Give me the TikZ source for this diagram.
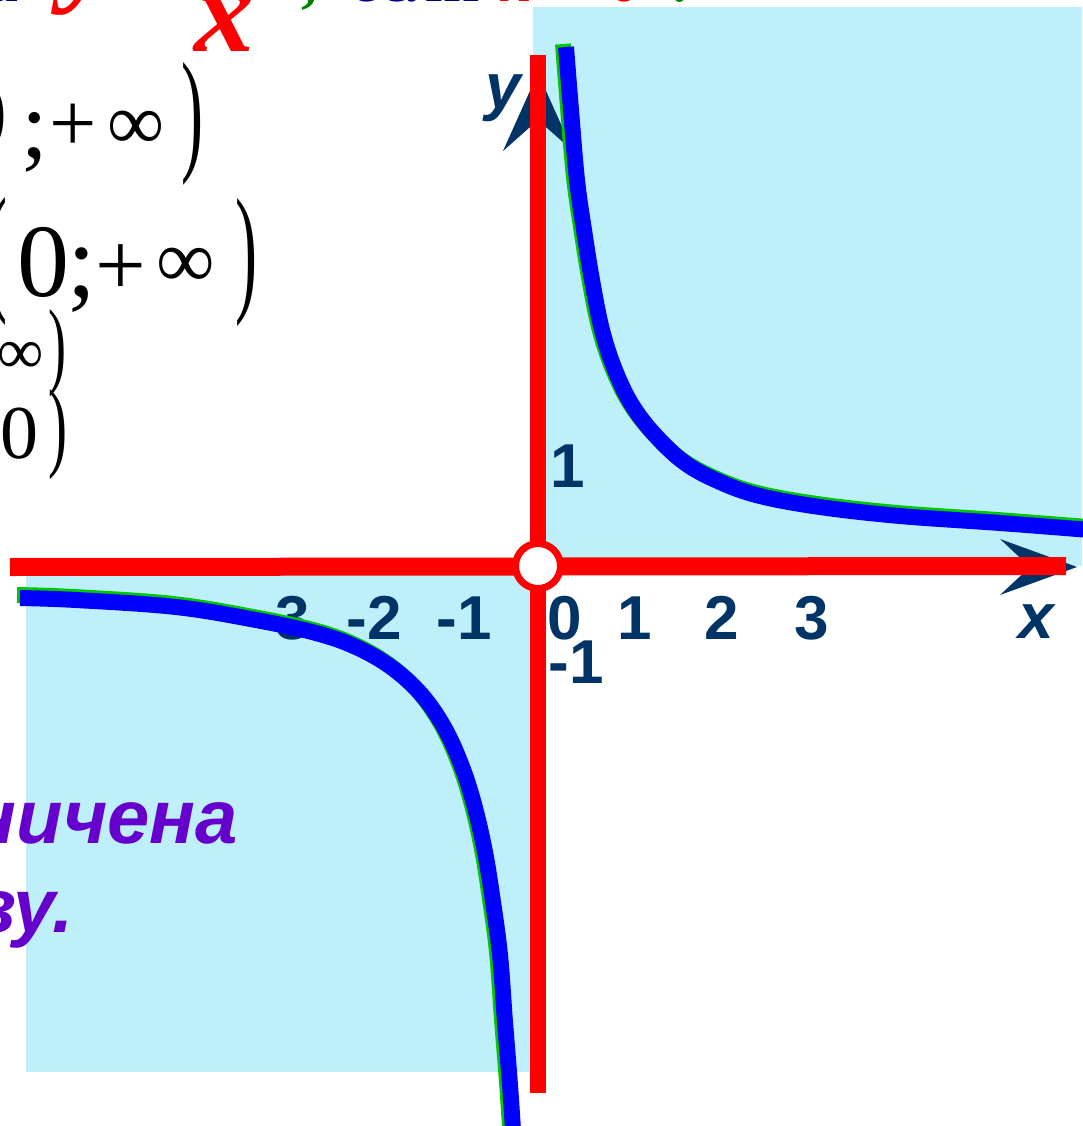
\documentclass[tikz,border=0pt]{standalone}
\usepackage{fontspec}
\usepackage{graphicx}
\setmainfont{Liberation Serif}
\newfontfamily\arialf{Liberation Sans}
\definecolor{cyanbg}{RGB}{190,240,252}
\definecolor{axisred}{RGB}{255,0,0}
\definecolor{navyaxis}{RGB}{0,51,102}
\definecolor{curveblue}{RGB}{0,0,255}
\definecolor{curvegreen}{RGB}{0,200,0}
\definecolor{purp}{RGB}{102,0,204}
\definecolor{titlenavy}{RGB}{0,0,128}
\definecolor{titlegreen}{RGB}{0,128,0}
\newcommand{\fsz}[1]{\fontsize{#1}{#1}\selectfont}
\begin{document}
\begin{tikzpicture}[x=1pt,y=-1pt,
  num/.style={text=navyaxis,inner sep=0,anchor=base,font=\arialf\bfseries\fsz{62}},
  axlab/.style={text=navyaxis,inner sep=0,anchor=base,font=\arialf\bfseries\itshape\fsz{64}},
  mth/.style={inner sep=0,anchor=center,font=\fsz{#1}},
  paren/.style={inner sep=0,anchor=center},
  ttl/.style={inner sep=0,anchor=base,font=\bfseries\fsz{64}},
  purptext/.style={text=purp,inner sep=0,anchor=base east,font=\arialf\bfseries\itshape\fsz{76}},
  axisline/.style={draw=axisred,line width=#1},
  curve/.style={draw=curveblue,line width=16pt},
  curveshadow/.style={draw=curvegreen,line width=16pt},
  arrowhead/.style={fill=navyaxis,draw=none}
]
\useasboundingbox (0,0) rectangle (1082,1126);
% background panels
\fill[cyanbg] (533,7) rectangle (1082,566);
\fill[cyanbg] (26,566) rectangle (531,1072);

% top title fragments (cut off)
\node[ttl,text=titlenavy,anchor=base east] (ta) at (19,2) {а};
\node[inner sep=0,anchor=base,text=red,font=\bfseries\itshape\fsz{120}] (ty) at (90,-10) {y};
\node[inner sep=0,anchor=base,text=red,font=\bfseries\itshape\fsz{120}] (tx) at (224,52) {x};
\node[ttl,text=titlegreen] (tc) at (309,1) {,};
\node[ttl,text=titlenavy,anchor=base west] (te) at (350,2) {если};
\node[ttl,text=red,font=\bfseries\itshape\fsz{64}] (tk) at (515,2) {k};
\node[ttl,text=red] (t0) at (624,2) {0};
\node[ttl,text=titlegreen] (tcol) at (680,2) {:};

% math fragments, line A
\node[mth=96] (a0) at (-16,117) {0};
\node[mth=96] (asc) at (35,142) {;};
\node[mth=84] (apl) at (73,128) {+};
\node[mth=80] (ainf) at (136,130) {∞};
\node[paren] (apr) at (192,124) {\resizebox{22pt}{94pt}{)}};
% line B
\node[paren] (bpl) at (-3,262) {\resizebox{22pt}{98pt}{(}};
\node[mth=104] (b0) at (43,262) {0};
\node[mth=104] (bsc) at (82,280) {;};
\node[mth=90] (bpls) at (121,270) {+};
\node[mth=82] (binf) at (186,268) {∞};
\node[paren] (bpr) at (246,263) {\resizebox{22pt}{98pt}{)}};
% line C
\node[mth=65] (cinf) at (21,358) {∞};
\node[paren] (cpr) at (57,353) {\resizebox{18pt}{67pt}{)}};
% line D
\node[mth=76] (d0) at (20,434) {0};
\node[paren] (dpr) at (58,435) {\resizebox{19pt}{69pt}{)}};

% purple text
\node[purptext] (p1) at (238,843) {ограничена};
\node[purptext] (p2) at (74,932) {снизу.};

% arrowheads (behind red axes)
\fill[arrowhead] (538,73) -- (573,151) -- (538,120) -- (503,151) -- cycle;
\fill[arrowhead] (1077,567) -- (1000,539) -- (1030,567) -- (1000,595) -- cycle;

% axes
\coordinate (xl) at (10,567);
\coordinate (xr) at (1066,566);
\coordinate (yt) at (538,55);
\coordinate (yb) at (538,1093);
\draw[axisline=18pt] (xl) -- (xr);
\draw[axisline=16pt] (yt) -- (yb);
\node[circle,draw=axisred,line width=7pt,fill=white,minimum size=45pt,inner sep=0] (o) at (538,566) {};

% labels
\node[axlab] (ly) at (503,109) {y};
\node[axlab] (lx) at (1036,638) {x};
\node[num] (y1) at (568,487) {1};
\node[num] (ym1) at (576,683) {-1};
\node[num,anchor=base east] (xm3) at (310,639) {-3};
\node[num] (xm2) at (374,639) {-2};
\node[num] (xm1) at (464,639) {-1};
\node[num] (x0) at (565,639) {0};
\node[num] (x1) at (635,639) {1};
\node[num] (x2) at (722,639) {2};
\node[num] (x3) at (812,639) {3};

% hyperbola branches
\def\branchone{(566,47) (571,110) (577,180) (584,230) (592,280) (602,330) (615,370) (632,405) (655,435) (685,463) (720,482) (760,496) (820,507) (900,516) (1000,523) (1090,530)}
\def\branchtwo{(20,598) (76,600) (176,607) (256,620) (316,633) (356,647) (391,667) (421,694) (444,727) (461,764) (474,804) (485,852) (493,902) (500,955) (505,1022) (510,1085) (513,1130)}
\draw[curveshadow,xshift=-3pt,yshift=3pt] plot[smooth,tension=0.6] coordinates \branchone;
\draw[curveshadow,xshift=-3pt,yshift=3pt] plot[smooth,tension=0.6] coordinates \branchtwo;
\draw[curve] plot[smooth,tension=0.6] coordinates \branchone;
\draw[curve] plot[smooth,tension=0.6] coordinates \branchtwo;
\end{tikzpicture}
\end{document}
